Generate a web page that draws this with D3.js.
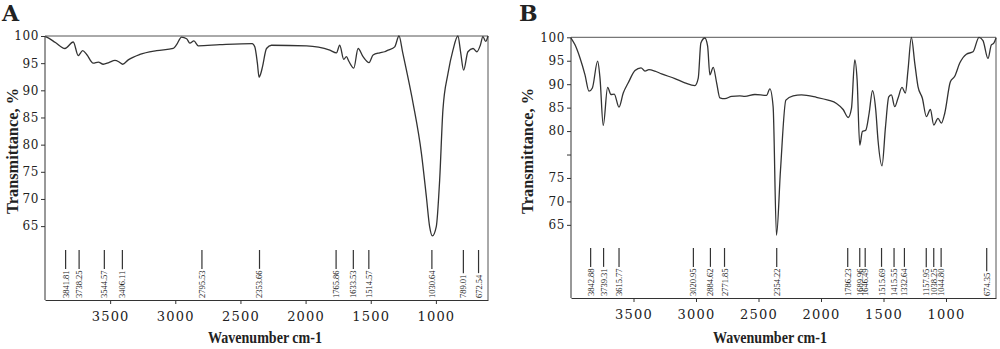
<!DOCTYPE html>
<html><head><meta charset="utf-8">
<script src="https://cdn.jsdelivr.net/npm/d3@7"></script>
<style>
body{margin:0;background:#fff;}
svg{display:block;}
text{fill:#222;}
</style></head>
<body>
<svg id="chart" width="1000" height="349"></svg>
<script>
// ---------- Data ----------
const wavenumbersA = [3998,3987,3920,3847,3783,3745,3711,3680,3630,3591,3553,3510,3463,3430,3404,3361,3272,3143,3016,2990,2952,2913,2888,2857,2824,2658,2410,2390,2370,2357,2345,2331,2300,2262,1993,1814,1763,1738,1707,1687,1667,1630,1597,1559,1513,1482,1431,1393,1367,1316,1283,1255,1226,1175,1111,1073,1048,1027,997,971,946,907,869,831,810,787,754,715,685,659,639,618,600];
const transmittanceA = [99.9,99.8,98.8,97.7,98.9,96.4,97.3,96.6,95.0,95.2,94.8,95.1,95.5,95.2,94.8,95.6,96.6,97.3,97.7,98.4,99.8,99.5,98.7,99.1,98.2,98.4,98.6,98.0,95.0,92.4,93.0,94.3,97.7,98.3,98.2,97.4,96.9,98.3,95.7,96.2,95.3,94.1,97.7,96.2,95.1,96.5,96.9,97.1,97.4,98.0,100.0,97.0,93.7,87.6,78.4,70.4,64.9,63.2,64.9,73.5,86.4,93.1,97.4,100.0,97.0,93.7,97.1,97.7,97.1,98.3,99.9,99.0,100.0];
const peakLabelsA = ["3841.81","3738.25","3544.57","3406.11","2795.53","2353.66","1765.86","1633.53","1514.57","1030.64","789.01","672.54"];
const peakMarksA = [3841.81,3738.25,3544.57,3406.11,2795.53,2353.66,1765.86,1633.53,1514.57,1030.64,789.01,672.54];

const wavenumbersB = [4000,3968,3928,3888,3856,3829,3787,3768,3742,3707,3680,3654,3616,3582,3542,3488,3440,3408,3377,3329,3275,3169,3089,3009,2982,2961,2929,2907,2889,2862,2835,2809,2769,2715,2649,2609,2529,2436,2409,2383,2356,2324,2281,2223,2156,2036,1943,1876,1823,1783,1756,1730,1711,1690,1669,1642,1615,1588,1562,1544,1512,1484,1458,1437,1410,1384,1352,1325,1304,1277,1250,1224,1189,1157,1125,1098,1064,1037,1010,965,930,890,837,784,736,704,664,637,619,600];
const transmittanceB = [99.85,98.4,95.6,92.0,88.5,89.2,94.9,91.3,81.2,89.3,87.8,87.9,85.1,88.1,90.3,92.9,93.5,92.8,93.1,92.8,92.2,91.2,90.3,89.7,91.3,98.8,99.85,98.1,92.0,93.6,90.3,87.1,86.9,87.4,87.5,87.4,87.8,87.6,89.0,85.2,57.8,71.7,86.6,87.5,87.7,87.2,86.6,85.9,84.6,82.9,84.9,95.2,90.9,77.0,79.9,80.2,83.8,88.6,84.5,78.1,72.6,80.9,87.3,87.7,85.2,87.0,89.3,88.1,93.0,100.0,94.5,89.5,87.0,83.1,84.6,81.3,82.7,81.7,83.8,90.5,91.7,94.5,96.4,96.9,100.0,99.3,95.5,98.4,98.7,99.85];
const peakLabelsB = ["3842.88","3739.31","3615.77","3020.95","2884.62","2771.85","2354.22","1786.23","1689.96","1646.49","1515.69","1415.55","1332.64","1157.95","1038.25","1044.80","674.35"];
// marker positions (cm-1) as placed in the figure; crowded labels are spread apart
const peakMarksB = [3842.88,3739.31,3615.77,3020.95,2884.62,2771.85,2354.22,1786.23,1689.96,1646.49,1515.69,1415.55,1332.64,1157.95,1098,1039,674.35];

const xTickValues = [3500,3000,2500,2000,1500,1000];
const yTickValuesA = [100,95,90,85,80,75,70,65];
const yTickLabelsA = ["100","95","90","85","80","75","70","65"];
const yTickValuesB = [100,95,90,85,80,75,70,65,60];
const yTickLabelsB = ["100","95","90","85","80","","75","70","65"];

// ---------- Drawing ----------
const svg = d3.select("#chart");

function panel(cfg){
  const g = svg.append("g");
  const x = d3.scaleLinear().domain([4000,600]).range([cfg.left, cfg.right]);
  const y = d3.scaleLinear().domain([100, cfg.yMin]).range([cfg.top, cfg.bottom]);

  // panel letter
  g.append("text").attr("x", cfg.letterX).attr("y", 21)
    .style("font-family","'DejaVu Serif',serif").style("font-weight","bold").style("font-size","22px")
    .text(cfg.letter);

  // frame top/right
  g.append("path")
    .attr("d", `M${cfg.left},${cfg.top}H${cfg.right}V${cfg.bottom}`)
    .attr("fill","none").attr("stroke","#555").attr("stroke-width",1);

  // x axis
  const xa = g.append("g").attr("transform",`translate(0,${cfg.bottom})`)
    .call(d3.axisBottom(x).tickValues(xTickValues).tickSize(4).tickSizeOuter(0).tickFormat(d3.format("d")));
  xa.select(".domain").attr("stroke","#333");
  xa.selectAll(".tick line").attr("stroke","#333");
  xa.selectAll(".tick text").attr("dy","1.1em")
    .style("font-family","'DejaVu Serif',serif").style("font-size","13px").style("letter-spacing","1.2px").attr("fill","#222");

  // y axis
  const ya = g.append("g").attr("transform",`translate(${cfg.left},0)`)
    .call(d3.axisLeft(y).tickValues(cfg.yTickValues).tickSize(4).tickSizeOuter(0)
      .tickFormat((d,i)=>cfg.yTickLabels[i]));
  ya.select(".domain").attr("d", `M0,${cfg.top}V${cfg.bottom}`).attr("stroke","#333");
  ya.selectAll(".tick line").attr("stroke","#333");
  ya.selectAll(".tick text").attr("x",-6)
    .style("font-family","'DejaVu Serif',serif").style("font-size","12px").style("letter-spacing","0.6px").attr("fill","#222");

  // axis titles
  g.append("text").attr("x", cfg.xTitleX).attr("y", 343).attr("text-anchor","middle")
    .attr("textLength",114).attr("lengthAdjust","spacingAndGlyphs")
    .style("font-family","'Liberation Serif',serif").style("font-weight","bold").style("font-size","16px")
    .text("Wavenumber cm-1");
  g.append("text").attr("transform",`translate(${cfg.yTitleX},${cfg.yTitleY}) rotate(-90)`)
    .attr("text-anchor","middle").attr("textLength",126).attr("lengthAdjust","spacingAndGlyphs")
    .style("font-family","'Liberation Serif',serif").style("font-weight","bold").style("font-size","16px")
    .text("Transmittance, %");

  // spectrum
  const data = cfg.w.map((w,i)=>({w, t: cfg.t[i]}));
  g.append("path").datum(data)
    .attr("fill","none").attr("stroke","#333").attr("stroke-width",1.3).attr("stroke-linejoin","round")
    .attr("d", d3.line().x(d=>x(d.w)).y(d=>y(d.t)).curve(d3.curveMonotoneX));

  // peak markers
  const textBottom = cfg.bottom - 2;
  cfg.peaks.forEach((p,i)=>{
    const px = x(cfg.marks[i]);
    const t = g.append("text").attr("transform",`translate(${px},${textBottom}) rotate(-90)`)
      .attr("dy","0.35em").attr("text-anchor","start")
      .style("font-family","'Liberation Serif',serif").style("font-size","8.5px").attr("fill","#222")
      .text(p);
    const len = t.node().getComputedTextLength();
    g.append("line").attr("x1",px).attr("x2",px).attr("y1",cfg.peakTop).attr("y2",textBottom - len - 1.5)
      .attr("stroke","#333").attr("stroke-width",1.2);
  });
}

panel({letter:"A", letterX:2, left:45, right:488, top:36, bottom:300, yMin:51.4,
  yTickValues:yTickValuesA, yTickLabels:yTickLabelsA,
  w:wavenumbersA, t:transmittanceA, peaks:peakLabelsA, marks:peakMarksA, peakTop:250,
  xTitleX:265, yTitleX:18, yTitleY:151});
panel({letter:"B", letterX:519, left:571, right:996, top:37.3, bottom:298, yMin:44.4,
  yTickValues:yTickValuesB, yTickLabels:yTickLabelsB,
  w:wavenumbersB, t:transmittanceB, peaks:peakLabelsB, marks:peakMarksB, peakTop:248,
  xTitleX:770, yTitleX:533, yTitleY:151});
</script>
</body></html>
